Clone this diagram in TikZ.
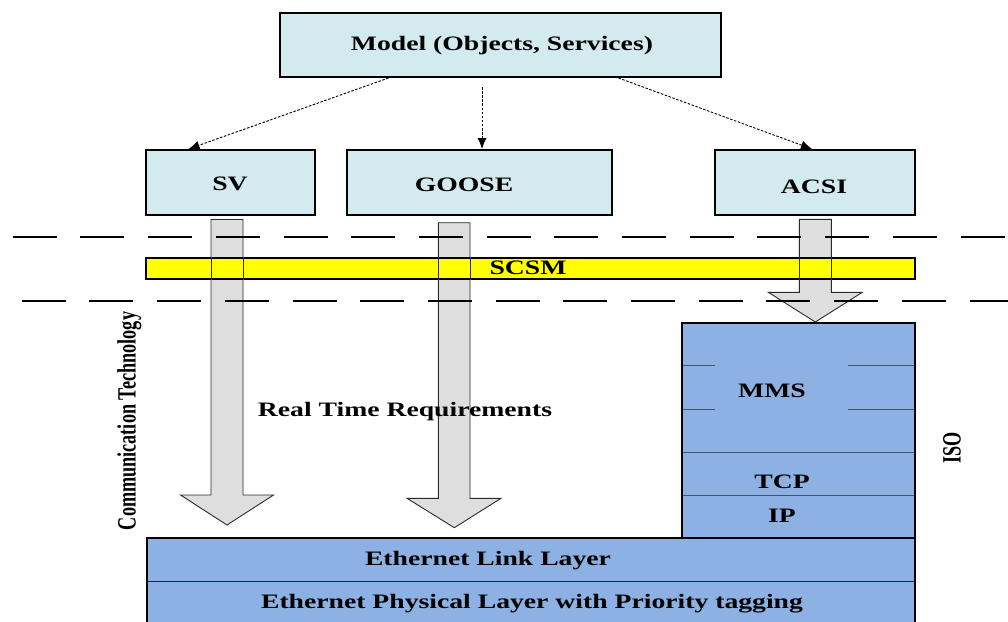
\documentclass[tikz,border=0pt]{standalone}
\usepackage{fontspec}
\setmainfont{Liberation Serif}
\newfontfamily\widefont[FakeStretch=1.35]{Liberation Serif}
\usetikzlibrary{arrows.meta}
\definecolor{boxblue}{HTML}{D3EAEF}
\definecolor{stackblue}{HTML}{8DB1E2}
\definecolor{arrgray}{HTML}{DEDEDE}
\definecolor{baryellow}{HTML}{FFFF00}
\definecolor{sepline}{HTML}{3E5272}
\definecolor{arrdraw}{HTML}{2A2A2A}
\begin{document}
\begin{tikzpicture}[x=1pt,y=-1pt,
  lbl/.style={font=\widefont\bfseries\fontsize{20.5}{24}\selectfont, inner sep=0pt, anchor=base},
  vlbl/.style={font=\bfseries\fontsize{18.2}{22}\selectfont, inner sep=0pt, rotate=90},
  topbox/.style={draw=black, line width=2pt, fill=boxblue, inner sep=0pt},
  modelarrow/.style={draw=black, line width=0.9pt, dash pattern=on 2.5pt off 1.6pt, -{Latex[length=11pt,width=9pt]}},
  bigarrow/.style={fill=arrgray, draw=arrdraw, line width=0.9pt},
  arrowedge/.style={draw=arrdraw, line width=0.9pt},
  sepdash/.style={draw=black, line width=1.6pt, dash pattern=on 44pt off 23.7pt},
  thinsep/.style={draw=sepline, line width=1pt},
  thicksep/.style={draw=black, line width=2pt}
]
\useasboundingbox (0,0) rectangle (1008,621);

% top boxes
\node[topbox, minimum width=441pt, minimum height=64pt] (model) at (500.5,45) {};
\node[topbox, minimum width=169pt, minimum height=65pt] (sv) at (230.5,182.5) {};
\node[topbox, minimum width=265pt, minimum height=65pt] (goose) at (479.5,182.5) {};
\node[topbox, minimum width=200pt, minimum height=65pt] (acsi) at (815,182.5) {};
\node[lbl] (modellbl) at (502,50) {Model (Objects, Services)};
\node[lbl] (svlbl) at (230,190) {SV};
\node[lbl] (gooselbl) at (464,191.5) {GOOSE};
\node[lbl] (acsilbl) at (814,193) {ACSI};

% dashed connectors
\draw[modelarrow] ([xshift=-112pt]model.south) -- ([xshift=-42pt]sv.north);
\draw[modelarrow] ([xshift=-18.5pt,yshift=-9pt]model.south) -- ([xshift=2.5pt]goose.north);
\draw[modelarrow] ([xshift=118pt]model.south) -- ([xshift=-3pt]acsi.north);

% big gray arrows
\path[bigarrow] (211,219.5) -- (243,219.5) -- (243,495) -- (273.5,495) -- (227,525) -- (180.5,495) -- (211,495) -- cycle;
\path[bigarrow] (438.3,222.7) -- (470,222.7) -- (470,498.3) -- (501,498.3) -- (454.3,527.7) -- (407,498.3) -- (438.3,498.3) -- cycle;
\path[bigarrow] (799.3,219.3) -- (831.3,219.3) -- (831.3,292.3) -- (862.3,292.3) -- (815.3,322) -- (768.3,292.3) -- (799.3,292.3) -- cycle;

% SCSM bar
\node[draw=black, line width=1.8pt, fill=baryellow, minimum width=769pt, minimum height=21pt, inner sep=0pt] (scsm) at (530.5,268.5) {};
\node[lbl] (scsmlbl) at (528,274.3) {SCSM};

% shaft edges seen through the bar
\draw[arrowedge] (211,257) -- (211,280) (243,257) -- (243,280);
\draw[arrowedge] (438.3,257) -- (438.3,280) (470,257) -- (470,280);
\draw[arrowedge] (799.3,257) -- (799.3,280) (831.3,257) -- (831.3,280);

% dashed separators
\coordinate (d1a) at (12.7,237);
\coordinate (d1b) at (1010,237);
\coordinate (d2a) at (21.7,301);
\coordinate (d2b) at (1010,301);
\draw[sepdash] (d1a) -- (d1b);
\draw[sepdash] (d2a) -- (d2b);

% Real time text
\node[lbl] (rtlbl) at (405,416) {Real Time Requirements};

% ISO stack
\node[fill=stackblue, minimum width=233pt, minimum height=215pt, inner sep=0pt] (stack) at (798.5,430.5) {};
\draw[thinsep] (682,365.7) -- (715,365.7) (848.3,365.7) -- (915,365.7);
\draw[thinsep] (682,409) -- (715,409) (848.3,409) -- (915,409);
\draw[thinsep] (682,452.3) -- (915,452.3);
\draw[thinsep] (682,495.3) -- (915,495.3);
\draw[thicksep] (stack.south west) -- (stack.north west) -- (stack.north east) -- (stack.south east);
\node[lbl] (mmslbl) at (772,397.3) {MMS};
\node[lbl] (tcplbl) at (782,488.3) {TCP};
\node[lbl] (iplbl) at (782,522.7) {IP};

% Ethernet
\node[draw=black, line width=2pt, fill=stackblue, minimum width=768.5pt, minimum height=90pt, inner sep=0pt] (eth) at (530.75,583) {};
\draw[thinsep, draw=black!85] (146.5,581) -- (915,581);
\node[lbl] (linklbl) at (488,565.7) {Ethernet Link Layer};
\node[lbl] (physlbl) at (532,608.3) {Ethernet Physical Layer with Priority tagging};

% side labels
\node[vlbl] (commlbl) at (129.5,421) {\scalebox{1}[1.45]{Communication Technology}};
\node[vlbl] (isolbl) at (952,448) {\scalebox{1}[1.45]{ISO}};
\end{tikzpicture}
\end{document}
